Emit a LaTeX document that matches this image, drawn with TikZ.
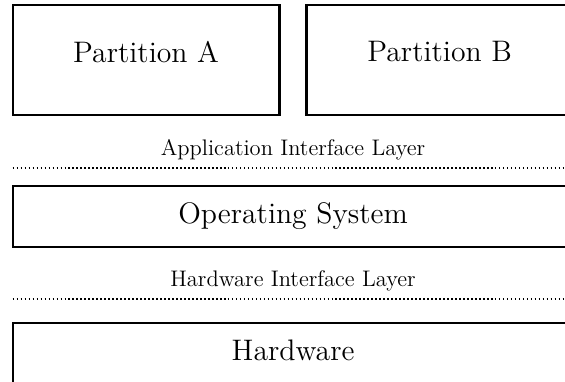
\documentclass[tikz,border=0pt]{standalone}
\usepackage{tikz}
\usetikzlibrary{positioning,calc}

\begin{document}
\begin{tikzpicture}[
		scale = 1,
		every node/.style = {scale = 1},
		layer/.style = {draw, very thick, inner sep=0pt, minimum width=9.89cm,
			minimum height=1.076cm, text depth=3.8pt, font=\fontsize{14.9pt}{18pt}\selectfont},
		part/.style = {layer, minimum width=4.706cm, minimum height=1.94cm, text depth=8.2pt},
		iface/.style = {thick, dash pattern=on 0.8pt off 1.2pt},
		ifacelabel/.style = {font=\fontsize{11.3pt}{13.6pt}\selectfont},
	]
	\useasboundingbox (0,0) rectangle (9.966,6.738);
	\clip (0,0) rectangle (9.966,6.738);

	% partitions
	\node[part] (partA) at (2.577,5.68) {Partition A};
	\node[part] (partB) at (7.756,5.68) {Partition B};

	% application interface
	\coordinate (appL) at (0.224,3.774);
	\coordinate (appR) at (10.115,3.774);
	\coordinate (appM) at ($(appL)!0.5!(appR)$);
	\draw[iface] (appL) -- (appR);
	\node[ifacelabel, above=0.02cm of appM] (appText) {Application Interface Layer};

	\node[layer] (os) at (5.17,2.919) {Operating System};

	% hardware interface
	\coordinate (hwL) at (0.224,1.464);
	\coordinate (hwR) at (10.115,1.464);
	\coordinate (hwM) at ($(hwL)!0.5!(hwR)$);
	\draw[iface] (hwL) -- (hwR);
	\node[ifacelabel, above=0.02cm of hwM] (hwText) {Hardware Interface Layer};

	\node[layer] (hw) at (5.17,0.503) {Hardware};

\end{tikzpicture}
\end{document}
